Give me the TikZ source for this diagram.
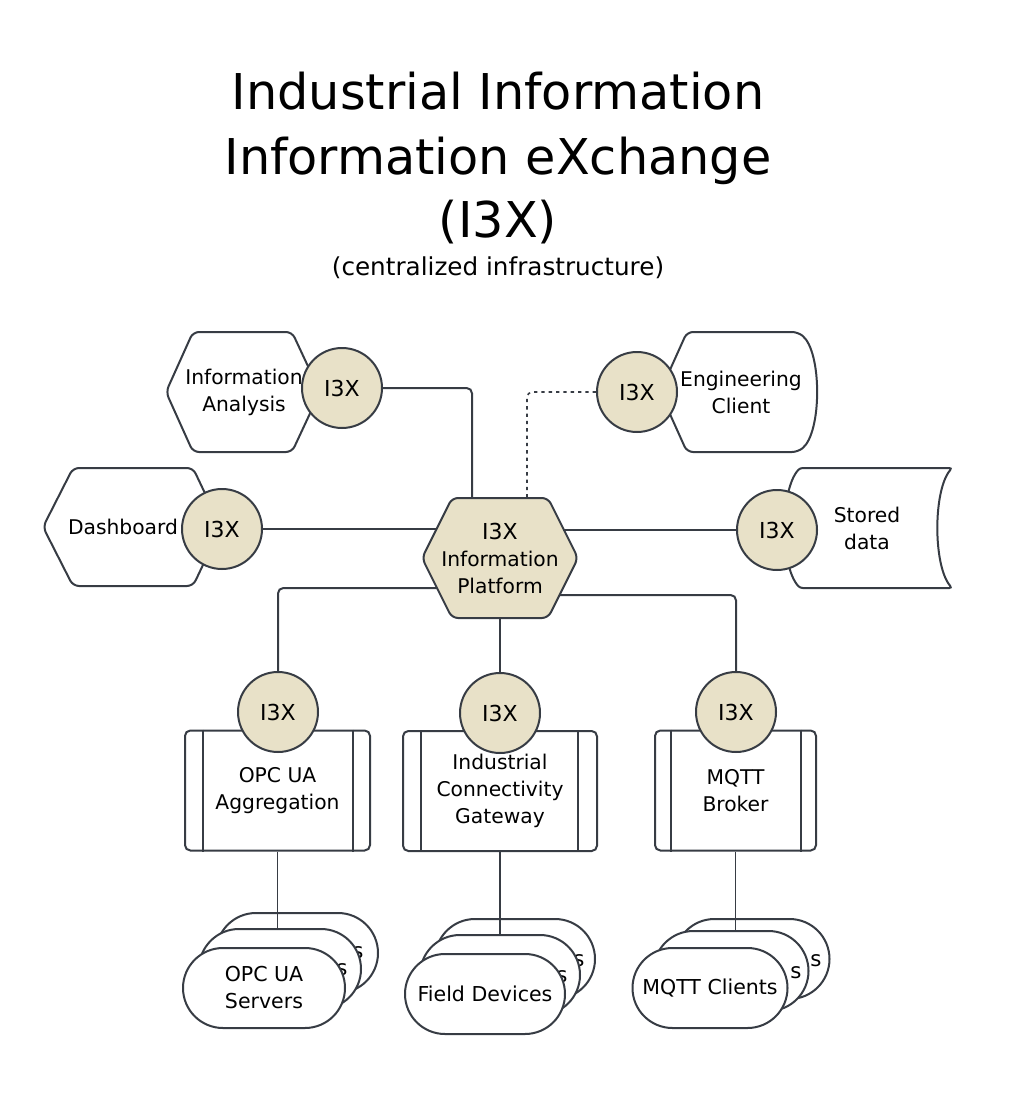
\documentclass[tikz,border=0pt]{standalone}
\usepackage{fontspec}
\setmainfont{DejaVu Sans}
\usetikzlibrary{calc}
\definecolor{ink}{RGB}{55,60,68}
\definecolor{beige}{RGB}{232,225,200}
\begin{document}
\begin{tikzpicture}[x=0.75pt,y=-0.75pt,
  shp/.style={draw=ink, line width=1.5pt, fill=white, rounded corners=4.5pt},
  tag/.style={circle, draw=ink, line width=1.5pt, fill=beige, minimum size=60pt, inner sep=0pt, font=\fontsize{16.5}{19}\selectfont},
  lbl/.style={align=center, font=\fontsize{15.2}{20.25}\selectfont, inner sep=0pt},
  conn/.style={draw=ink, line width=1.5pt, rounded corners=4pt},
  fine/.style={draw=ink, line width=0.8pt},
  box/.style={draw=ink, line width=1.5pt, fill=white, rounded corners=4pt, minimum height=90pt, inner sep=0pt, align=center, font=\fontsize{15.2}{20.25}\selectfont},
  pill/.style={draw=ink, line width=1.5pt, fill=white, rounded corners=30pt, minimum height=60pt, inner sep=0pt, align=center, font=\fontsize{15.4}{20.25}\selectfont},
  peek/.style={inner sep=0pt, font=\fontsize{16}{20.25}\selectfont},
  ttl/.style={anchor=base, inner sep=0pt, font=\fontsize{37}{44}\selectfont}
]
\useasboundingbox (0,0) rectangle (1025,1109);

% title
\node[ttl] (t1) at (498,110) {Industrial Information};
\node[ttl] (t2) at (498,175) {Information eXchange};
\node[ttl] (t3) at (498,238) {(I3X)};
\node[anchor=base, inner sep=0pt, font=\fontsize{18.5}{22}\selectfont] (t4) at (498,276) {(centralized infrastructure)};

% outer shapes
\path[shp] (240,332) -- (292,332) -- (320,392) -- (292,452) -- (193,452) -- (166,392) -- (193,332) -- cycle;
\node[lbl] (ia) at (244,392) {Information\\Analysis};

\path[shp] (120,468) -- (193,468) -- (221,527) -- (193,586) -- (73,586) -- (43,527) -- (73,468) -- cycle;
\node[lbl] (dash) at (123,527) {Dashboard};

\path[shp] (740,332) -- (798,332) .. controls (822,352) and (822,432) .. (798,452) -- (687,452) -- (660,392) -- (687,332) -- cycle;
\node[lbl] (ec) at (741,392) {Engineering\\Client};

\path[shp, rounded corners=2pt] (870,468) -- (952,468) .. controls (933,490) and (933,566) .. (952,588) -- (800,588) .. controls (780,566) and (780,490) .. (800,468) -- cycle;
\node[lbl] (sd) at (867,528) {Stored\\data};

% hub
\path[shp, fill=beige] (500,498) -- (548,498) -- (578,558) -- (548,618) -- (452,618) -- (422,558) -- (452,498) -- cycle;
\node[lbl] (hub) at (500,558) {\fontsize{16.5}{20.25}\selectfont I3X\\Information\\Platform};
\coordinate (hubNW) at (472,498);
\coordinate (hubNE) at (527,498);
\coordinate (hubW) at (436.5,529);
\coordinate (hubE) at (563,530);
\coordinate (hubSW) at (437,588);
\coordinate (hubSE) at (559.5,595);
\coordinate (hubS) at (500,618);

% boxes
\node[box, minimum width=138.75pt] (opcbox) at (277.5,790.5) {OPC UA\\Aggregation};
\draw[ink, line width=1.5pt] ($(opcbox.north west)+(19,0)$) -- ($(opcbox.south west)+(19,0)$);
\draw[ink, line width=1.5pt] ($(opcbox.north east)+(-18,0)$) -- ($(opcbox.south east)+(-18,0)$);
\node[box, minimum width=145.5pt] (gwbox) at (500,791) {Industrial\\Connectivity\\Gateway};
\draw[ink, line width=1.5pt] ($(gwbox.north west)+(19,0)$) -- ($(gwbox.south west)+(19,0)$);
\draw[ink, line width=1.5pt] ($(gwbox.north east)+(-20,0)$) -- ($(gwbox.south east)+(-20,0)$);
\node[box, minimum width=120.75pt] (mqbox) at (735.5,790.5) {MQTT\\Broker};
\draw[ink, line width=1.5pt] ($(mqbox.north west)+(17,0)$) -- ($(mqbox.south west)+(17,0)$);
\draw[ink, line width=1.5pt] ($(mqbox.north east)+(-16,0)$) -- ($(mqbox.south east)+(-16,0)$);

% I3X tags
\node[tag] (iat) at (342,388) {I3X};
\node[tag] (ect) at (637,392) {I3X};
\node[tag] (dasht) at (222,529) {I3X};
\node[tag] (sdt) at (777,530) {I3X};
\node[tag] (opct) at (278,712) {I3X};
\node[tag] (gwt) at (500,713) {I3X};
\node[tag] (mqt) at (736,712) {I3X};

% connectors
\draw[conn] (iat.east) -| (hubNW);
\draw[conn, line width=1.2pt, dash pattern=on 2.5pt off 3pt] (ect.west) -| (hubNE);
\draw[conn] (dasht.east) -- (hubW);
\draw[conn] (sdt.west) -- (hubE);
\draw[conn] (hubSW) -| (opct.north);
\draw[conn] (hubSE) -| (mqt.north);
\draw[conn] (hubS) -- (gwt.north);

% stacks
\node[pill, minimum width=121.5pt] (opcb) at (297,953) {};
\node[peek] (opcbs) at (358,953) {s};
\node[pill, minimum width=121.5pt] (opcm) at (280,969) {};
\node[peek] (opcms) at (342,970) {s};
\node[pill, minimum width=121.5pt] (opcf) at (264,988) {OPC UA\\Servers};

\node[pill, minimum width=120pt] (fdb) at (515,959) {};
\node[peek] (fdbs) at (579,961) {s};
\node[pill, minimum width=120pt] (fdm) at (500,975) {};
\node[peek] (fdms) at (562,977) {s};
\node[pill, minimum width=120pt] (fdf) at (485,994) {Field Devices};

\node[pill, minimum width=116.25pt] (mqb) at (752,959) {};
\node[peek] (mqbs) at (816,961) {s};
\node[pill, minimum width=116.25pt] (mqm) at (731,971) {};
\node[peek] (mqms) at (796,973) {s};
\node[pill, minimum width=116.25pt] (mqf) at (710,988) {MQTT Clients};

\draw[fine] (opcbox.south) -- (opcbox.south |- opcm.north);
\draw[fine] (gwbox.south) -- (gwbox.south |- fdm.north);
\draw[fine] (mqbox.south) -- (mqbox.south |- mqm.north);
\end{tikzpicture}
\end{document}
